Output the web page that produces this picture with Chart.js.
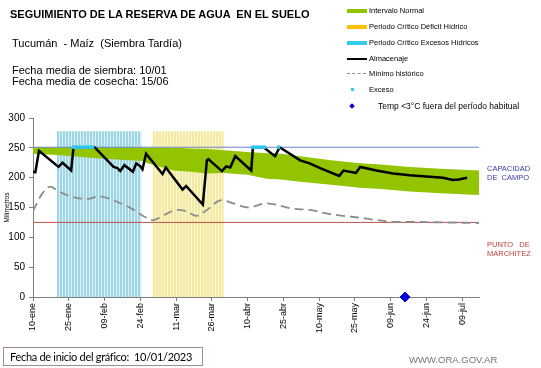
<!DOCTYPE html>
<html lang="es">
<head>
<meta charset="UTF-8">
<title>Seguimiento de la reserva de agua en el suelo</title>
<script src="https://cdn.jsdelivr.net/npm/chart.js"></script>
<style>
    body {
        margin: 0;
        background: #fff;
        font-family: "Liberation Sans", Arial, sans-serif;
    }
    #wrap {
        position: relative;
        width: 541px;
        height: 368px;
        overflow: hidden;
    }
    #chart {
        position: absolute;
        left: 0;
        top: 0;
    }
    .txt {
        position: absolute;
        white-space: pre;
        line-height: 11px;
        color: #000;
    }
    #title { left: 10px; top: 9px; font-size: 11px; font-weight: bold; }
    #sub1 { left: 12px; top: 38px; font-size: 11px; }
    #sub2 { left: 12px; top: 65px; font-size: 11px; }
    #sub3 { left: 12px; top: 76px; font-size: 11px; }

    .leg { position: absolute; left: 347px; height: 12px; font-size: 7.5px; line-height: 12px; white-space: pre; }
    .leg .sw { position: absolute; left: 0; top: 4px; width: 20px; height: 4px; }
    .leg .lb { position: absolute; left: 22px; top: 0; }

    .side { position: absolute; left: 487px; font-size: 7.5px; line-height: 8.5px; white-space: pre; }
    #cc { top: 165px; color: #3a3aa8; }
    #pm { top: 241px; color: #c0403c; }

    #inicio {
        position: absolute;
        left: 3px; top: 347px;
        width: 200px; height: 19px;
        border: 1px solid #a08c8c;
        font-family: Lato, "Noto Sans", sans-serif;
        font-size: 11px;
        letter-spacing: -0.3px;
        line-height: 17px;
        padding-left: 6px;
        box-sizing: border-box;
        white-space: pre;
    }
    #web { position: absolute; left: 409px; top: 354px; font-size: 9.5px; color: #747474; }
</style>
</head>
<body>
<div id="wrap">
    <canvas id="chart" width="541" height="368"></canvas>

    <div class="txt" id="title">SEGUIMIENTO DE LA RESERVA DE AGUA  EN EL SUELO</div>
    <div class="txt" id="sub1">Tucumán  - Maíz  (Siembra Tardía)</div>
    <div class="txt" id="sub2">Fecha media de siembra: 10/01</div>
    <div class="txt" id="sub3">Fecha media de cosecha: 15/06</div>

    <div class="leg" style="top:5px"><div class="sw" style="background:#92c400"></div><div class="lb">Intervalo Normal</div></div>
    <div class="leg" style="top:21px"><div class="sw" style="background:#ffc000"></div><div class="lb">Periodo Crítico Déficit Hídrico</div></div>
    <div class="leg" style="top:37px"><div class="sw" style="background:#33ccee"></div><div class="lb">Periodo Crítico Excesos Hídricos</div></div>
    <div class="leg" style="top:53px"><div class="sw" style="background:#000;height:2px;top:5px"></div><div class="lb">Almacenaje</div></div>
    <div class="leg" style="top:68px"><div class="sw" style="height:0;top:5px;border-top:1.5px dashed #8c8c8c;width:19px"></div><div class="lb">Mínimo histórico</div></div>
    <div class="leg" style="top:84px"><div class="sw" style="background:#33ccee;width:3px;height:3px;left:4px"></div><div class="lb">Exceso</div></div>
    <div class="leg" style="top:100px;font-size:8.5px"><div class="sw" style="background:#0000d8;width:4px;height:4px;left:3px;transform:rotate(45deg)"></div><div class="lb" style="left:31px">Temp &lt;3°C fuera del período habitual</div></div>

    <div class="side" id="cc">CAPACIDAD
DE  CAMPO</div>
    <div class="side" id="pm">PUNTO   DE
MARCHITEZ</div>

    <div id="inicio">Fecha de inicio del gráfico:  10/01/2023</div>
    <div id="web">WWW.ORA.GOV.AR</div>
</div>

<script>
    // eje x: días desde 10-ene
    const tickLabels = ['10-ene', '25-ene', '09-feb', '24-feb', '11-mar', '26-mar', '10-abr',
        '25-abr', '10-may', '25-may', '09-jun', '24-jun', '09-jul'];
    const lastDay = 187;

    const capacidadCampo = 251;
    const puntoMarchitez = 125;

    // Intervalo normal (banda verde)
    const bandDays  = [0, 10, 28, 46, 48, 59, 66, 73, 80, 90, 98, 104, 112, 125, 137, 146, 158, 171, 187];
    const bandUpper = [251, 251, 251, 251, 250, 250, 249, 248, 246, 243, 241, 240, 236, 229, 224, 222, 218, 215, 212];
    const bandLower = [240, 238, 232, 228, 224, 212, 210, 207, 208, 205, 198, 197, 193, 188, 183, 181, 177, 174, 171];

    // Almacenaje
    const almDays = [0, 1, 2.5, 10.7, 12.4, 16, 17, 25.8, 33.8, 35.4, 36.6, 38.3, 41.9, 43.3, 45, 45.9,
        47.4, 54.3, 55.7, 62.7, 64.2, 71.2, 72.9, 73.5, 79.2, 81, 82.7, 84.8, 91.5, 92.2, 96.6,
        101.5, 103.4, 112, 116, 120.4, 128.4, 130.2, 135.4, 137.2, 144, 151, 158, 165, 172, 176, 178.5, 182];
    const almValues = [210, 209, 245, 218, 225, 212, 251, 251, 218, 216, 211, 221, 210, 224, 219, 214,
        240, 206, 217, 180, 186, 155, 229, 231, 211, 219, 217, 236, 212, 251, 251,
        236, 251, 229, 224, 216, 203, 212, 208, 218, 212, 207, 204, 202, 200, 196, 197, 200];

    // Mínimo histórico
    const minDays = [0, 2, 4, 7, 10, 14, 20, 24, 27.5, 31, 35, 41, 46.5, 50.5, 54.7, 60.4, 64.6, 68.7,
        72.9, 78.5, 84, 90.4, 98, 109, 116, 123, 130, 137, 144, 151, 158, 172, 187];
    const minValues = [144, 160, 174, 185, 179, 171, 165, 165, 169, 166, 160, 149, 135, 129, 137, 146, 143, 136,
        146, 162, 157, 150, 157, 148, 146, 140, 136, 133, 129, 126, 126, 125, 124];

    // Periodos críticos [inicio, fin] y altura de las barras
    const periodoExcesos = [10, 45.5];
    const periodoDeficit = [50, 80];
    const alturaPeriodo = 278;

    // Exceso (días con agua por encima de capacidad de campo)
    const excesoDays = [17, 18, 19, 20, 21, 22, 23, 24, 25, 92, 93, 94, 95, 96, 97, 103];

    // Temp < 3°C fuera del período habitual
    const heladaDays = [156];

    const xy = (xs, ys) => xs.map((x, i) => ({ x: x, y: Array.isArray(ys) ? ys[i] : ys }));

    const ctx = document.getElementById('chart').getContext('2d');

    function stripes(color, gap) {
        const c = document.createElement('canvas');
        c.width = 3;
        c.height = 1;
        const g = c.getContext('2d');
        g.fillStyle = color;
        g.fillRect(0, 0, 2, 1);
        g.fillStyle = gap;
        g.fillRect(2, 0, 1, 1);
        return ctx.createPattern(c, 'repeat');
    }

    Chart.defaults.font.family = '"Liberation Sans", Arial, sans-serif';
    Chart.defaults.color = '#000';

    const flat = { pointRadius: 0, borderWidth: 0, tension: 0 };

    new Chart(ctx, {
        type: 'line',
        data: {
            datasets: [
                { label: 'Temp <3°C', data: xy(heladaDays, 0), showLine: false, pointStyle: 'rectRot',
                  pointRadius: 5, backgroundColor: '#0000d8', borderColor: '#0000d8', clip: false, order: 0 },
                { label: 'Exceso', data: xy(excesoDays, capacidadCampo), showLine: false, pointStyle: 'rect',
                  pointRadius: 2.4, backgroundColor: '#2ec6ee', borderColor: '#2ec6ee', borderWidth: 0, order: 1 },
                { label: 'Almacenaje', data: xy(almDays, almValues), borderColor: '#000', borderWidth: 2.5,
                  pointRadius: 0, tension: 0, order: 2 },
                { label: 'Mínimo histórico', data: xy(minDays, minValues), borderColor: '#8c8c8c',
                  borderDash: [9, 5], borderWidth: 1.8, pointRadius: 0, tension: 0.35, order: 3 },
                { label: 'Punto de marchitez', data: xy([0, lastDay], puntoMarchitez), borderColor: '#c0504d',
                  borderWidth: 1, pointRadius: 0, order: 4 },
                { label: 'Capacidad de campo', data: xy([0, lastDay], capacidadCampo), borderColor: '#6f86c4',
                  borderWidth: 1, pointRadius: 0, order: 5 },
                { label: 'Intervalo Normal', data: xy(bandDays, bandUpper), ...flat,
                  fill: { target: 7 }, backgroundColor: '#92c400', order: 6 },
                { label: 'inferior', data: xy(bandDays, bandLower), ...flat, fill: false, order: 7 },
                { label: 'Periodo Crítico Excesos Hídricos', data: xy(periodoExcesos, alturaPeriodo), ...flat,
                  fill: 'origin', backgroundColor: stripes('#9fd6e4', '#dcf1f6'), order: 8 },
                { label: 'Periodo Crítico Déficit Hídrico', data: xy(periodoDeficit, alturaPeriodo), ...flat,
                  fill: 'origin', backgroundColor: stripes('#f3ea9f', '#fbf7da'), order: 9 }
            ]
        },
        options: {
            responsive: false,
            animation: false,
            layout: { padding: { top: 118, right: 62, bottom: 0, left: 0 } },
            plugins: {
                legend: { display: false },
                tooltip: { enabled: false }
            },
            scales: {
                x: {
                    type: 'linear',
                    min: 0,
                    max: lastDay,
                    afterFit: s => { s.height = 71; },
                    grid: { drawOnChartArea: false, tickLength: 4, color: '#7f7f7f' },
                    border: { color: '#7f7f7f' },
                    ticks: {
                        stepSize: 15,
                        includeBounds: false,
                        autoSkip: false,
                        minRotation: 90,
                        maxRotation: 90,
                        padding: 2,
                        font: { size: 9 },
                        callback: v => tickLabels[Math.round(v / 15)] || ''
                    }
                },
                y: {
                    min: 0,
                    max: 300,
                    afterFit: s => { s.width = 33; },
                    grid: { drawOnChartArea: false, tickLength: 4, color: '#7f7f7f' },
                    border: { color: '#7f7f7f' },
                    ticks: { stepSize: 50, padding: 4, font: { size: 10 } },
                    title: { display: true, text: 'Milímetros', font: { size: 6.5 }, padding: { top: 3, bottom: 0 } }
                }
            }
        }
    });
</script>
</body>
</html>
